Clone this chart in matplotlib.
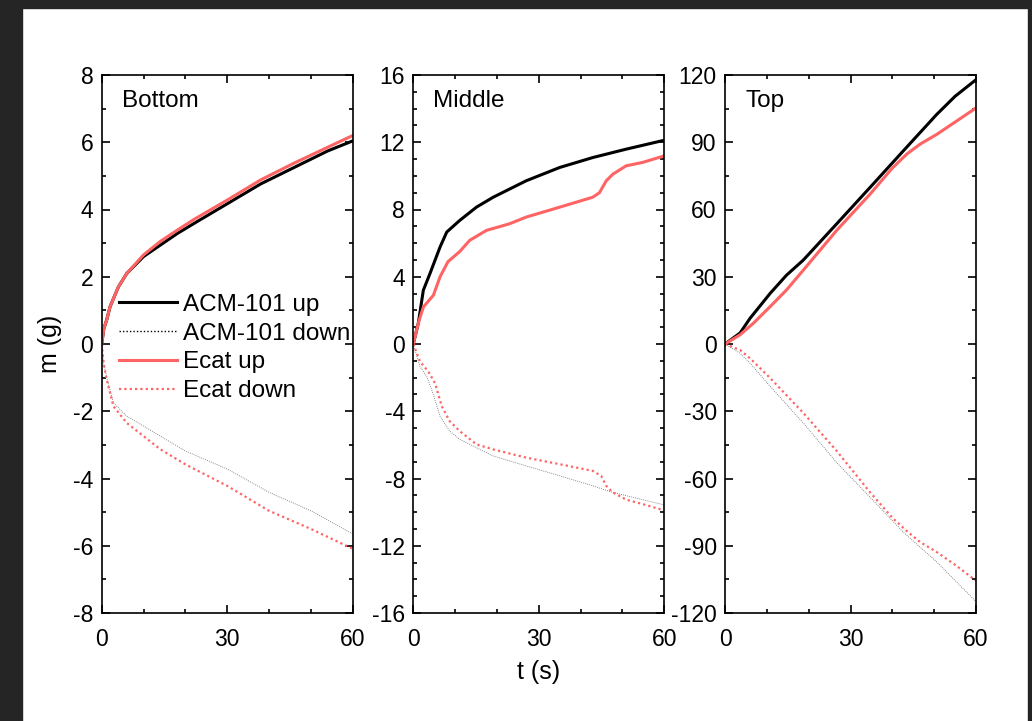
import matplotlib
matplotlib.use("Agg")
import matplotlib.pyplot as plt
from matplotlib.ticker import MultipleLocator
from matplotlib.patches import Rectangle

plt.rcParams['font.family'] = ['Liberation Sans', 'DejaVu Sans']
plt.rcParams['axes.unicode_minus'] = False

# ---------------- data ----------------
# Bottom
b_up_t   = [0, 0.5, 1.2, 2, 4, 6, 10, 14, 18, 22, 30, 38, 46, 54, 60]
b_acm_up = [0, 0.45, 0.72, 1.11, 1.7, 2.1, 2.6, 2.94, 3.28, 3.58, 4.17, 4.76, 5.25, 5.74, 6.04]
b_ecat_up = [0, 0.45, 0.72, 1.11, 1.7, 2.1, 2.65, 3.05, 3.38, 3.7, 4.28, 4.88, 5.38, 5.85, 6.2]
b_dn_t   = [0, 0.5, 1.2, 2.8, 6, 10, 14, 20, 30, 40, 50, 60]
b_acm_dn = [0, -0.6, -1.0, -1.75, -2.15, -2.44, -2.74, -3.18, -3.72, -4.41, -4.96, -5.65]
b_ecat_dn = [0, -0.6, -1.06, -1.85, -2.35, -2.74, -3.13, -3.58, -4.22, -4.96, -5.5, -6.09]

# Middle
m_acm_up_t = [0, 1.2, 2.4, 4, 6.4, 8, 11.1, 15.1, 19.1, 27, 35, 42.9, 50.9, 60]
m_acm_up   = [0, 1.24, 3.2, 4.2, 5.77, 6.66, 7.35, 8.14, 8.73, 9.71, 10.5, 11.09, 11.59, 12.12]
m_ecat_up_t = [0, 1.2, 2.4, 4.8, 6.4, 8.3, 11.1, 13.5, 17.5, 23, 27, 35, 42.9, 44.5, 46.1, 47.7, 50.9, 54.8, 60]
m_ecat_up   = [0, 1.24, 2.2, 2.9, 4.0, 4.9, 5.5, 6.17, 6.76, 7.15, 7.55, 8.14, 8.73, 9.0, 9.7, 10.1, 10.6, 10.8, 11.19]
m_acm_dn_t = [0, 1.6, 3.2, 4.8, 6.4, 8.7, 11.1, 15.1, 19.1, 27, 35, 42.9, 46.9, 50.9, 60]
m_acm_dn   = [0, -1.34, -1.93, -3.0, -4.3, -5.18, -5.67, -6.17, -6.66, -7.25, -7.84, -8.43, -8.77, -9.02, -9.57]
m_ecat_dn_t = [0, 1.6, 3.6, 5.2, 6.8, 8.7, 11.1, 15.1, 19.1, 27, 35, 42.9, 44.9, 46.1, 47.7, 50.9, 54.8, 60]
m_ecat_dn   = [0, -1.04, -1.64, -2.33, -3.7, -4.59, -5.18, -5.97, -6.27, -6.76, -7.15, -7.55, -7.84, -8.43, -8.83, -9.26, -9.52, -9.9]

# Top
t_acm_up_t = [0, 3.6, 6, 10.8, 14.7, 18.7, 26.7, 34.7, 42.6, 50.6, 55, 60]
t_acm_up   = [0, 4.9, 11.5, 22.6, 30.7, 37.4, 53.6, 69.9, 86.1, 102.4, 110.5, 117.9]
t_ecat_up_t = [0, 3.6, 6.8, 10.8, 14.7, 18.7, 26.7, 34.7, 40, 43.5, 46.6, 50.6, 55, 60]
t_ecat_up   = [0, 4.1, 9.3, 16.7, 24.1, 32.9, 50.7, 66.9, 78.5, 84.8, 89.1, 93.5, 99.0, 105.3]
t_acm_dn_t = [0, 3.6, 6, 10.8, 18.7, 26.7, 34.7, 42.6, 50.6, 55, 60]
t_acm_dn   = [0, -4.1, -8.6, -18.9, -35.2, -52.9, -68.4, -83.9, -97.2, -105.5, -114.9]
t_ecat_dn_t = [0, 3.6, 6, 10.8, 18.7, 26.7, 34.7, 40, 43.5, 46.6, 50.6, 55, 60]
t_ecat_dn   = [0, -2.7, -6.4, -15.2, -30.7, -47.7, -66.2, -77.5, -83.5, -88.3, -92.8, -98.5, -105.6]

panel_names = ["Bottom", "Middle", "Top"]
ylims = [(-8, 8), (-16, 16), (-120, 120)]
ymajor = [2, 4, 30]
yminor = [1, 1, 15]
legend_labels = ["ACM-101 up", "ACM-101 down", "Ecat up", "Ecat down"]

panels = [
    (b_up_t, b_acm_up, b_up_t, b_ecat_up, b_dn_t, b_acm_dn, b_dn_t, b_ecat_dn),
    (m_acm_up_t, m_acm_up, m_ecat_up_t, m_ecat_up, m_acm_dn_t, m_acm_dn, m_ecat_dn_t, m_ecat_dn),
    (t_acm_up_t, t_acm_up, t_ecat_up_t, t_ecat_up, t_acm_dn_t, t_acm_dn, t_ecat_dn_t, t_ecat_dn),
]

# ---------------- figure ----------------
W, H = 1032, 721
fig = plt.figure(figsize=(W / 100, H / 100), dpi=100)
fig.patch.set_facecolor('white')
dark = '#252525'
fig.patches.append(Rectangle((0, 0), 22 / W, 1, transform=fig.transFigure, color=dark, zorder=-1))
fig.patches.append(Rectangle((0, 1 - 8 / H), 1, 8 / H, transform=fig.transFigure, color=dark, zorder=-1))
fig.patches.append(Rectangle((1 - 4 / W, 0), 4 / W, 1, transform=fig.transFigure, color=dark, zorder=-1))

lefts = [101.7, 413.3, 725]
top_px, bot_px, width_px = 75, 613, 251
red = '#ff6464'

axes = []
for i, left in enumerate(lefts):
    ax = fig.add_axes([left / W, 1 - bot_px / H, width_px / W, (bot_px - top_px) / H])
    axes.append(ax)
    ta, ya, te, ye, tad, yad, ted, yed = panels[i]
    l1, = ax.plot(ta, ya, color='black', lw=2.2, label=legend_labels[0])
    l2, = ax.plot(tad, yad, color='#666666', lw=0.6, linestyle=(0, (1, 1.5)), label=legend_labels[1])
    l3, = ax.plot(te, ye, color=red, lw=2.2, label=legend_labels[2])
    l4, = ax.plot(ted, yed, color=red, lw=1.6, linestyle=(0, (1, 1.4)), label=legend_labels[3])
    ax.set_xlim(0, 60)
    ax.set_ylim(*ylims[i])
    ax.xaxis.set_major_locator(MultipleLocator(30))
    ax.xaxis.set_minor_locator(MultipleLocator(10))
    ax.yaxis.set_major_locator(MultipleLocator(ymajor[i]))
    ax.yaxis.set_minor_locator(MultipleLocator(yminor[i]))
    ax.tick_params(which='both', direction='in', top=True, right=True, width=1.2, labelsize=16.5)
    ax.tick_params(which='major', length=6)
    ax.tick_params(which='minor', length=3)
    ax.tick_params(axis='x', pad=11)
    ax.tick_params(axis='y', pad=6)
    for s in ax.spines.values():
        s.set_linewidth(1.2)
    ax.text(0.08, 0.952, panel_names[i], transform=ax.transAxes, fontsize=17.5,
            ha='left', va='center')
    if i == 0:
        handles = [l1, l2, l3, l4]

leg = axes[0].legend(handles=handles, labels=legend_labels, loc='upper left',
                     bbox_to_anchor=(0.04, 0.607), frameon=False, fontsize=17.5,
                     handlelength=2.4, handletextpad=0.25, labelspacing=0.28,
                     borderaxespad=0.0, borderpad=0.3)
leg.legend_handles[1].set_color('black')
leg.legend_handles[1].set_linewidth(1.0)

axes[0].set_ylabel('m (g)', fontsize=18, labelpad=8)
axes[1].set_xlabel('t (s)', fontsize=18, labelpad=6)

fig.savefig('out.png', dpi=100, facecolor='white')
